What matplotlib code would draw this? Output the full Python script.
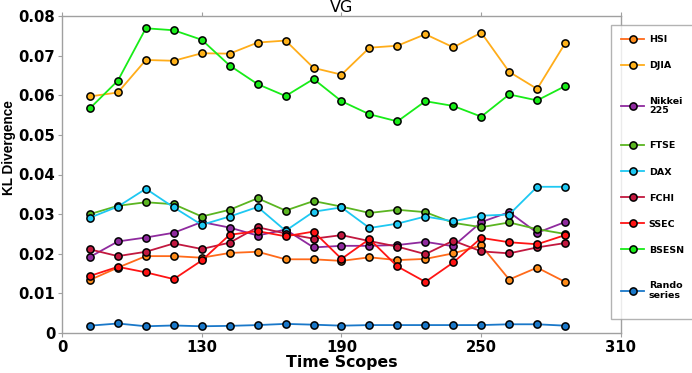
import matplotlib
matplotlib.use("Agg")
import matplotlib.pyplot as plt

plt.rcParams['font.family'] = ['DejaVu Sans']

# ---- data ----
time_scopes = [82, 94, 106, 118, 130, 142, 154, 166, 178, 190, 202, 214, 226, 238, 250, 262, 274, 286]

hsi = [0.0134, 0.0165, 0.0194, 0.0194, 0.0190, 0.0202, 0.0205, 0.0186, 0.0186, 0.0182,
       0.0191, 0.0184, 0.0187, 0.0201, 0.0221, 0.0135, 0.0165, 0.0129]
djia = [0.0597, 0.0607, 0.0689, 0.0687, 0.0706, 0.0705, 0.0733, 0.0738, 0.0669, 0.0652,
        0.0720, 0.0725, 0.0754, 0.0721, 0.0758, 0.0659, 0.0616, 0.0731]
nikkei = [0.0192, 0.0231, 0.0241, 0.0253, 0.0280, 0.0266, 0.0246, 0.0261, 0.0216, 0.0220,
          0.0220, 0.0222, 0.0230, 0.0219, 0.0280, 0.0305, 0.0253, 0.0280]
ftse = [0.0300, 0.0321, 0.0330, 0.0325, 0.0294, 0.0311, 0.0340, 0.0309, 0.0333, 0.0319,
        0.0303, 0.0311, 0.0305, 0.0278, 0.0267, 0.0279, 0.0262, 0.0250]
dax = [0.0291, 0.0319, 0.0364, 0.0317, 0.0273, 0.0294, 0.0318, 0.0258, 0.0306, 0.0317,
       0.0265, 0.0276, 0.0294, 0.0282, 0.0296, 0.0299, 0.0369, 0.0369]
fchi = [0.0211, 0.0194, 0.0205, 0.0226, 0.0212, 0.0228, 0.0267, 0.0251, 0.0238, 0.0247,
        0.0232, 0.0218, 0.0199, 0.0233, 0.0206, 0.0201, 0.0216, 0.0227]
ssec = [0.0144, 0.0167, 0.0153, 0.0136, 0.0183, 0.0248, 0.0257, 0.0244, 0.0256, 0.0187,
        0.0237, 0.0168, 0.0129, 0.0178, 0.0240, 0.0229, 0.0224, 0.0247]
bsesn = [0.0567, 0.0637, 0.0769, 0.0764, 0.0740, 0.0675, 0.0628, 0.0598, 0.0641, 0.0585,
         0.0552, 0.0534, 0.0585, 0.0573, 0.0546, 0.0602, 0.0587, 0.0623]
random_series = [0.00185, 0.0024, 0.0017, 0.0019, 0.0017, 0.0018, 0.0020, 0.0023, 0.0021, 0.00185,
                 0.0020, 0.0020, 0.0020, 0.0020, 0.0020, 0.0022, 0.0022, 0.00185]

series_labels = ["HSI", "DJIA", "Nikkei\n225", "FTSE", "DAX", "FCHI", "SSEC", "BSESN", "Rando\nseries"]
line_colors = ["#ff6a1a", "#ffad1a", "#8f2a9e", "#5bb521", "#1ec8f2", "#c2183f", "#ff1414", "#18ec18", "#1a78c9"]
marker_colors = ["#ff8c1a", "#ffb21a", "#8f2a9e", "#5bb521", "#1ec8f2", "#c2183f", "#ff1414", "#18ec18", "#1a78c9"]

x_ticks = [70, 130, 190, 250, 310]
x_tick_labels = ["0", "130", "190", "250", "310"]
y_ticks = [0, 0.01, 0.02, 0.03, 0.04, 0.05, 0.06, 0.07, 0.08]
y_tick_labels = ["0", "0.01", "0.02", "0.03", "0.04", "0.05", "0.06", "0.07", "0.08"]

all_series = [hsi, djia, nikkei, ftse, dax, fchi, ssec, bsesn, random_series]

# ---- figure ----
W, H = 692, 373
fig = plt.figure(figsize=(W/100, H/100), dpi=100)
ax = fig.add_axes([62/W, 1-333/H, 559/W, 317/H])

handles = []
for vals, lab, lc, mc in zip(all_series, series_labels, line_colors, marker_colors):
    # two-line legend entries get blank padding lines so their rows are taller
    leg_lab = "\n" + lab + "\n" if "\n" in lab else lab
    h, = ax.plot(time_scopes, vals, color=lc, lw=1.3, marker='o', markersize=5.2,
                 markerfacecolor=mc, markeredgecolor='black', markeredgewidth=1.1, label=leg_lab)
    handles.append(h)

ax.set_xlim(70, 310)
ax.set_ylim(0, 0.08)
ax.set_xticks(x_ticks)
ax.set_xticklabels(x_tick_labels)
ax.set_yticks(y_ticks)
ax.set_yticklabels(y_tick_labels)

for s in ax.spines.values():
    s.set_color('#a0a0a0')
    s.set_linewidth(1.0)

ax.tick_params(axis='both', which='both', direction='out', length=3, color='#a0a0a0',
               labelsize=10.7)
ax.tick_params(axis='x', pad=2)
ax.tick_params(axis='y', pad=1.8)
ax.tick_params(axis='x', which='both', top=True)
for lab in ax.get_xticklabels() + ax.get_yticklabels():
    lab.set_fontweight('bold')

ax.set_xlabel("Time Scopes", fontsize=11.3, fontweight='bold', labelpad=0)
ax.set_ylabel("KL Divergence", fontsize=9.8, fontweight='bold',
              family=['Liberation Sans', 'DejaVu Sans'])
ax.yaxis.set_label_coords(-46/559, (333-147.5)/317)
fig.text((62 + 559/2)/W, 1.0, "VG", fontsize=11.5, ha='center', va='top')

leg = fig.legend(handles=handles, loc='upper left', bbox_to_anchor=(611/W, 1-24.7/H),
                 prop={'weight': 'bold', 'size': 6.8}, frameon=True, fancybox=False,
                 borderpad=1.1, labelspacing=1.81, handlelength=2.4, handletextpad=0.5,
                 borderaxespad=0)
for t in leg.get_texts():
    t.set_linespacing(1.05)
leg.get_frame().set_edgecolor('#a0a0a0')
leg.get_frame().set_linewidth(1.0)

fig.savefig("out.png", dpi=100)
